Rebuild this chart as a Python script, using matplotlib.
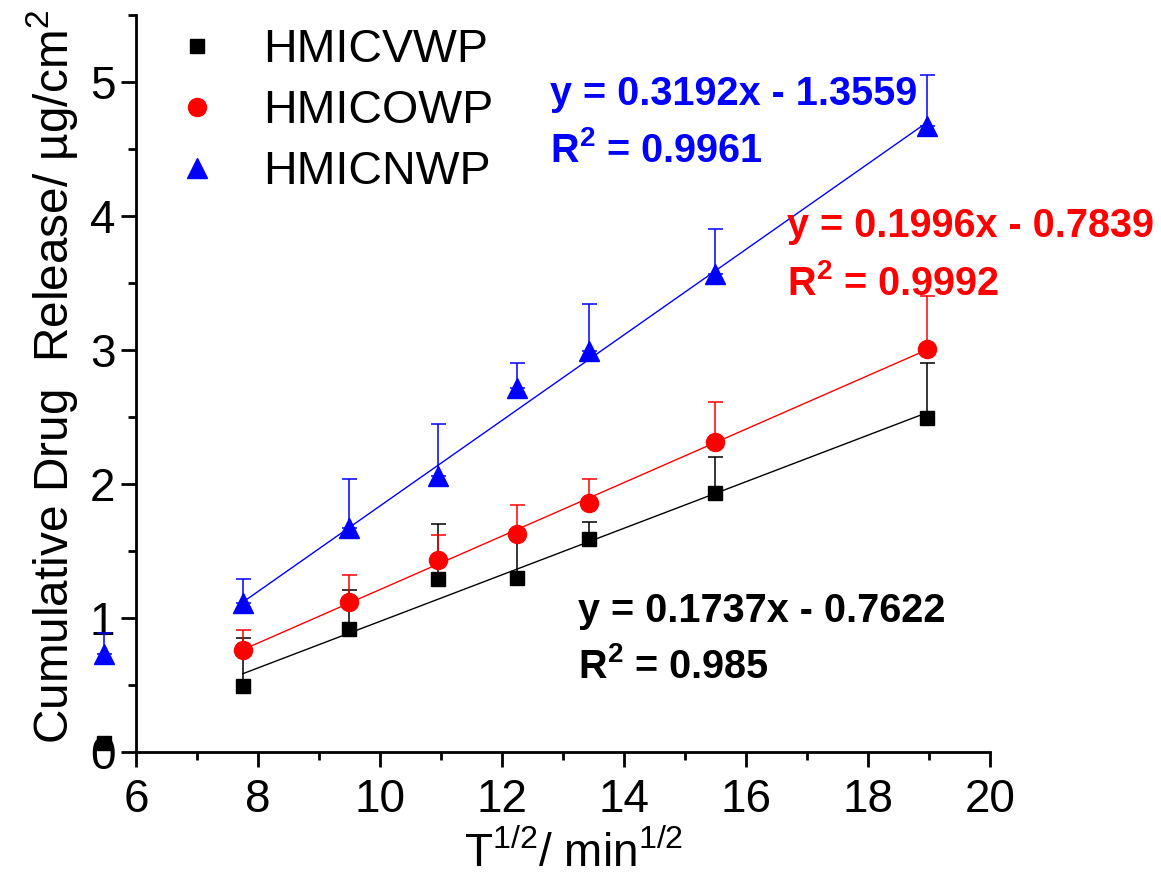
import numpy as np
import matplotlib
matplotlib.use('Agg')
import matplotlib.pyplot as plt
from matplotlib.lines import Line2D
from matplotlib.ticker import MultipleLocator

plt.rcParams['font.family'] = 'Liberation Sans'
plt.rcParams['mathtext.fontset'] = 'custom'
plt.rcParams['mathtext.rm'] = 'Liberation Sans'
plt.rcParams['mathtext.it'] = 'Liberation Sans:italic'
plt.rcParams['mathtext.bf'] = 'Liberation Sans:bold'

# square root of sampling time (min^1/2)
t_vwp = [5.48, 7.75, 9.49, 10.95, 12.25, 13.42, 15.49, 18.97]
t_owp = [7.75, 9.49, 10.95, 12.25, 13.42, 15.49, 18.97]
t_nwp = [5.48, 7.75, 9.49, 10.95, 12.25, 13.42, 15.49, 18.97]

# cumulative release (ug/cm2) and upper SD
rel_vwp = [0.07, 0.49, 0.92, 1.29, 1.30, 1.59, 1.93, 2.49]
sd_vwp = [0.0, 0.36, 0.29, 0.41, 0.35, 0.13, 0.27, 0.41]
rel_owp = [0.76, 1.12, 1.43, 1.63, 1.86, 2.31, 3.01]
sd_owp = [0.15, 0.20, 0.19, 0.21, 0.18, 0.30, 0.39]
rel_nwp = [0.73, 1.11, 1.67, 2.06, 2.72, 2.99, 3.57, 4.67]
sd_nwp = [0.16, 0.18, 0.37, 0.39, 0.18, 0.35, 0.33, 0.38]

# linear fits over the 7.75 - 18.97 range
fit_slope = [0.1737, 0.1996, 0.3192]
fit_icpt = [-0.7622, -0.7839, -1.3559]
fit_r2 = ['0.985', '0.9992', '0.9961']

names = ['HMICVWP', 'HMICOWP', 'HMICNWP']
colors = ['#000000', '#FF0000', '#0000FF']
markers = ['s', 'o', '^']
msizes = [10.5, 13, 15]

fig = plt.figure(figsize=(11.61, 8.76), dpi=100)
ax = fig.add_axes([136/1161, 124/876, 854/1161, 737/876])

series = [(t_vwp, rel_vwp, sd_vwp), (t_owp, rel_owp, sd_owp), (t_nwp, rel_nwp, sd_nwp)]
for i, (t, r, sd) in enumerate(series):
    eb = ax.errorbar(t, r, yerr=[np.zeros(len(sd)), sd], fmt=markers[i], color=colors[i],
                     ms=msizes[i], mec=colors[i], elinewidth=1.1, capsize=5.4, capthick=1.1,
                     zorder=3)
    for art in eb.get_children():
        art.set_clip_on(False)
    xf = np.array([t_owp[0], t_owp[-1]])
    ax.plot(xf, fit_slope[i]*xf + fit_icpt[i], color=colors[i], lw=1.0, zorder=2)

# fit equations
eq_pos = [(13.25, 0.97, 0.55), (16.67, 3.84, 3.41), (12.79, 4.83, 4.40)]
for i, (xp, y1, y2) in enumerate(eq_pos):
    ax.text(xp, y1, 'y = %.4fx - %.4f' % (fit_slope[i], -fit_icpt[i]), color=colors[i],
            fontsize=28.5, fontweight='bold', va='baseline', ha='left')
    ax.text(xp, y2, r'R$^{\mathbf{2}}$ = ' + fit_r2[i], color=colors[i],
            fontsize=28.5, fontweight='bold', va='baseline', ha='left')

ax.set_xlim(6, 20)
ax.set_ylim(0, 5.5)
ax.xaxis.set_major_locator(MultipleLocator(2))
ax.xaxis.set_minor_locator(MultipleLocator(1))
ax.yaxis.set_major_locator(MultipleLocator(1))
ax.yaxis.set_minor_locator(MultipleLocator(0.5))

for s in ['top', 'right']:
    ax.spines[s].set_visible(False)
for s in ['left', 'bottom']:
    ax.spines[s].set_linewidth(2)

ax.tick_params(which='major', length=10.8, width=2, labelsize=33)
ax.tick_params(which='minor', length=5.8, width=2)
ax.tick_params(axis='x', which='major', pad=8)
ax.tick_params(axis='y', which='major', pad=4)

ax.set_xlabel(r'T$^{\mathrm{1/2}}$/ min$^{\mathrm{1/2}}$', fontsize=33)
ax.set_ylabel(r'Cumulative Drug  Release/ µg/cm$^{\mathrm{2}}$', fontsize=34.4)
ax.xaxis.set_label_coords(0.512, -0.108)
ax.yaxis.set_label_coords(-0.066, 0.509)

handles = [Line2D([], [], ls='none', marker=markers[i], color=colors[i], ms=msizes[i])
           for i in range(3)]
ax.legend(handles, names, loc='upper left', bbox_to_anchor=(174/1161, 1 - 28/876),
          bbox_transform=fig.transFigure, frameon=False, fontsize=33.5, borderpad=0,
          borderaxespad=0, handlelength=1.0, handletextpad=0.92, labelspacing=0.37)

fig.savefig('out.png', dpi=100)
